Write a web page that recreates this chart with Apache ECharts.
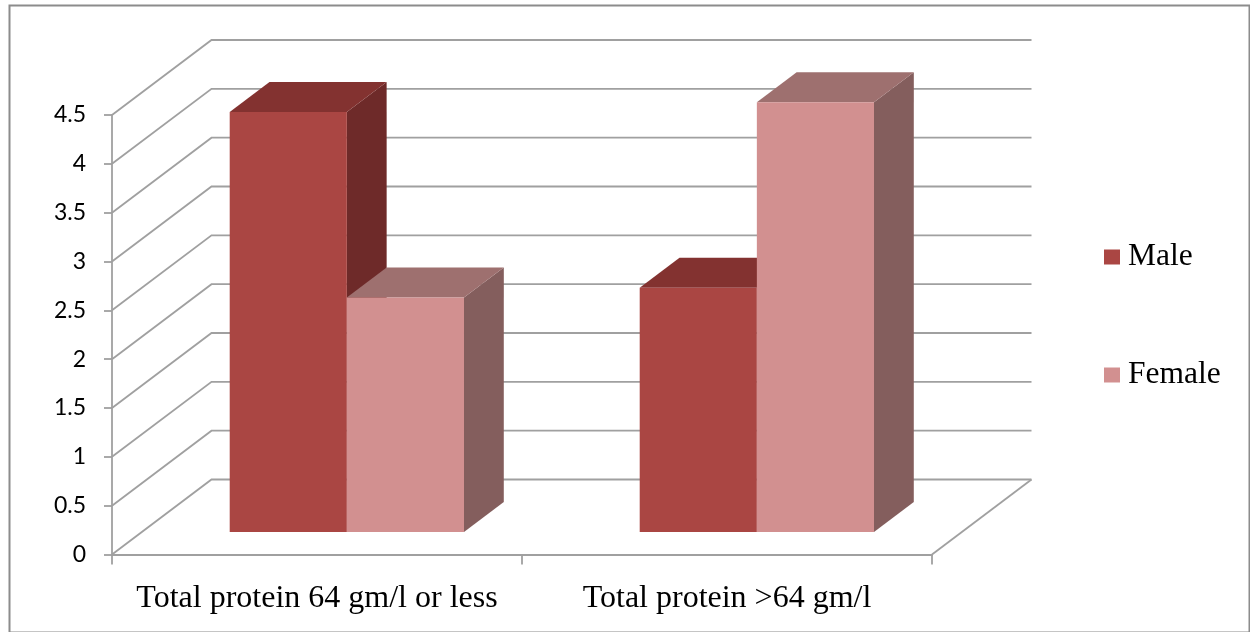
<!DOCTYPE html>
<html>
<head>
<meta charset="utf-8">
<title>Total protein by sex</title>
<script src="https://cdn.jsdelivr.net/npm/echarts@6/dist/echarts.min.js"></script>
<style>
  html, body { margin: 0; padding: 0; background: #ffffff; }
  #chart { width: 1250px; height: 632px; }
</style>
</head>
<body>
<div id="chart"></div>
<script>
// Chart data
const categories = ['Total protein 64 gm/l or less', 'Total protein >64 gm/l'];
const seriesNames = ['Male', 'Female'];
const maleValues = [4.3, 2.5];
const femaleValues = [2.4, 4.4];
const yTicks = [0, 0.5, 1, 1.5, 2, 2.5, 3, 3.5, 4, 4.5];

// Oblique projection: pixel shift from the front plane to the back wall
const DEPTH = [99.5, -75];
const BAR_FRONT = 0.3;   // fraction of depth where bar front faces sit
const BAR_BACK = 0.7;    // fraction of depth where bar back faces sit
const GRID_COLOR = '#a0a0a0';

const palette = {
  Male:   { front: '#aa4643', top: '#833230', side: '#6e2a29' },
  Female: { front: '#d29090', top: '#9e706f', side: '#845e5d' }
};

// Back wall + side wall gridlines, one polyline per tick value
function renderGrid(params, api) {
  const v = api.value(1);
  const cs = params.coordSys;
  const y = api.coord([0, v])[1];
  const xl = cs.x, xr = cs.x + cs.width;
  const children = [{
    type: 'polyline',
    shape: { points: [[xl, y], [xl + DEPTH[0], y + DEPTH[1]], [xr + DEPTH[0], y + DEPTH[1]]] },
    style: { stroke: GRID_COLOR, lineWidth: 1.8, fill: null },
    silent: true
  }];
  if (v === 0) {
    children.push({
      type: 'line',
      shape: { x1: xr, y1: y, x2: xr + DEPTH[0], y2: y + DEPTH[1] },
      style: { stroke: GRID_COLOR, lineWidth: 1.8 },
      silent: true
    });
  }
  return { type: 'group', children: children };
}

// 3D column: front, top and right faces
function makeBarRenderer(name, slot) {
  const c = palette[name];
  return function (params, api) {
    const cat = api.value(0), val = api.value(1);
    const base = api.coord([cat, 0]);
    const top = api.coord([cat, val]);
    const band = api.size([1, 0])[0];
    const w = band / 3.5;
    const fx = BAR_FRONT * DEPTH[0], fy = BAR_FRONT * DEPTH[1];
    const dx = (BAR_BACK - BAR_FRONT) * DEPTH[0], dy = (BAR_BACK - BAR_FRONT) * DEPTH[1];
    const x0 = base[0] - w + slot * w + fx;
    const x1 = x0 + w;
    const yb = base[1] + fy;
    const yt = top[1] + fy;
    return {
      type: 'group',
      children: [
        { type: 'polygon', shape: { points: [[x1, yt], [x1 + dx, yt + dy], [x1 + dx, yb + dy], [x1, yb]] },
          style: { fill: c.side } },
        { type: 'polygon', shape: { points: [[x0, yt], [x1, yt], [x1 + dx, yt + dy], [x0 + dx, yt + dy]] },
          style: { fill: c.top } },
        { type: 'rect', shape: { x: x0, y: yt, width: w, height: yb - yt },
          style: { fill: c.front } }
      ]
    };
  };
}

const chart = echarts.init(document.getElementById('chart'), null, { renderer: 'canvas' });

chart.setOption({
  animation: false,
  backgroundColor: '#ffffff',
  graphic: [{
    type: 'rect', left: 7, top: 3, z: -10,
    shape: { width: 1240, height: 627 },
    style: { fill: 'none', stroke: '#8c8c8c', lineWidth: 2 }
  }],
  grid: { left: 112, right: 318, top: 115, bottom: 77.5, containLabel: false },
  legend: {
    orient: 'vertical',
    left: 1104, top: 241,
    padding: 0,
    itemWidth: 16, itemHeight: 15, itemGap: 86,
    icon: 'rect',
    data: seriesNames,
    textStyle: { fontFamily: 'Liberation Serif', fontSize: 31.5, color: '#000', padding: [0, 0, 0, 3] }
  },
  xAxis: {
    type: 'category',
    data: categories,
    boundaryGap: true,
    axisLine: { show: true, lineStyle: { color: GRID_COLOR, width: 1.8 } },
    axisTick: { show: true, length: 10, lineStyle: { color: GRID_COLOR, width: 1.8 } },
    axisLabel: { interval: 0, hideOverlap: false, margin: 28, fontFamily: 'Liberation Serif', fontSize: 32, color: '#000' },
    splitLine: { show: false }
  },
  yAxis: {
    type: 'value',
    min: 0, max: 4.5, interval: 0.5,
    axisLine: { show: true, lineStyle: { color: GRID_COLOR, width: 1.8 } },
    axisTick: { show: true, length: 8, lineStyle: { color: GRID_COLOR, width: 1.8 } },
    axisLabel: { margin: 26, fontFamily: 'Lato', fontSize: 23, color: '#000' },
    splitLine: { show: false }
  },
  series: [
    {
      name: 'grid', type: 'custom', z: 1, silent: true,
      renderItem: renderGrid,
      data: yTicks.map(v => [0, v])
    },
    {
      name: 'Male', type: 'custom', z: 2,
      itemStyle: { color: palette.Male.front },
      renderItem: makeBarRenderer('Male', 0),
      data: maleValues.map((v, i) => [i, v])
    },
    {
      name: 'Female', type: 'custom', z: 3,
      itemStyle: { color: palette.Female.front },
      renderItem: makeBarRenderer('Female', 1),
      data: femaleValues.map((v, i) => [i, v])
    }
  ]
});
</script>
</body>
</html>
